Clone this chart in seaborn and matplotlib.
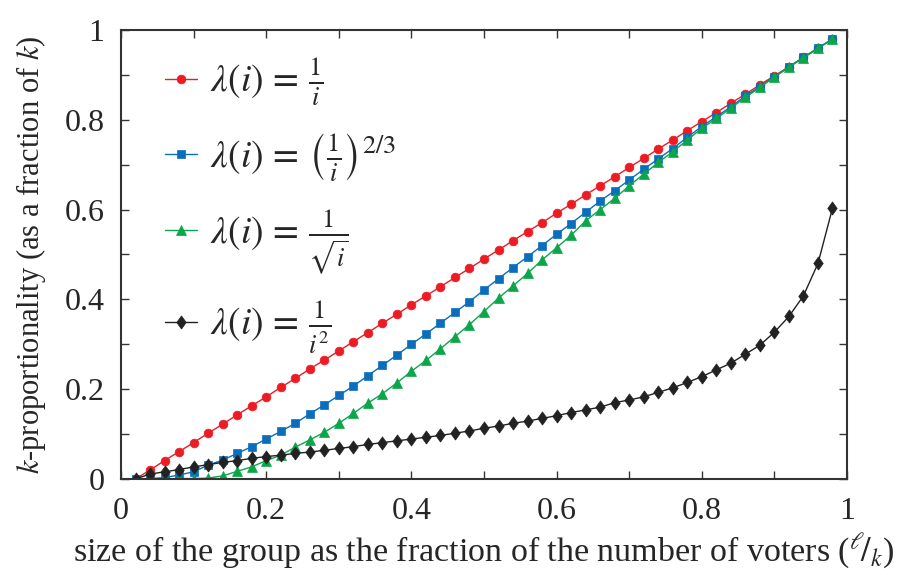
import numpy as np
import pandas as pd
import seaborn as sns
import matplotlib
matplotlib.use("Agg")
import matplotlib.pyplot as plt
from matplotlib.ticker import MultipleLocator

# ---- data ----
x_vals = [0.02, 0.04, 0.06, 0.08, 0.10, 0.12, 0.14, 0.16, 0.18, 0.20,
          0.22, 0.24, 0.26, 0.28, 0.30, 0.32, 0.34, 0.36, 0.38, 0.40,
          0.42, 0.44, 0.46, 0.48, 0.50, 0.52, 0.54, 0.56, 0.58, 0.60,
          0.62, 0.64, 0.66, 0.68, 0.70, 0.72, 0.74, 0.76, 0.78, 0.80,
          0.82, 0.84, 0.86, 0.88, 0.90, 0.92, 0.94, 0.96, 0.98]

y_inv = [0.000, 0.020, 0.041, 0.061, 0.081, 0.102, 0.122, 0.143, 0.163, 0.183,
         0.204, 0.224, 0.245, 0.265, 0.285, 0.306, 0.326, 0.347, 0.367, 0.388,
         0.408, 0.428, 0.449, 0.469, 0.490, 0.510, 0.531, 0.551, 0.571, 0.592,
         0.612, 0.633, 0.653, 0.673, 0.694, 0.714, 0.735, 0.755, 0.776, 0.796,
         0.816, 0.837, 0.857, 0.878, 0.898, 0.918, 0.939, 0.959, 0.980]

y_pow23 = [0.000, 0.001, 0.003, 0.009, 0.016, 0.031, 0.042, 0.057, 0.072, 0.089,
           0.106, 0.124, 0.145, 0.165, 0.186, 0.207, 0.230, 0.253, 0.276, 0.300,
           0.323, 0.347, 0.371, 0.395, 0.421, 0.446, 0.471, 0.495, 0.520, 0.545,
           0.569, 0.594, 0.619, 0.642, 0.666, 0.690, 0.713, 0.736, 0.761, 0.785,
           0.807, 0.829, 0.853, 0.874, 0.896, 0.918, 0.939, 0.960, 0.980]

y_sqrt = [0.000, 0.000, 0.000, 0.001, 0.001, 0.002, 0.007, 0.017, 0.027, 0.041,
          0.053, 0.071, 0.087, 0.104, 0.124, 0.146, 0.169, 0.190, 0.214, 0.240,
          0.264, 0.290, 0.317, 0.344, 0.373, 0.403, 0.430, 0.458, 0.488, 0.515,
          0.543, 0.575, 0.600, 0.625, 0.653, 0.679, 0.705, 0.729, 0.755, 0.781,
          0.803, 0.826, 0.850, 0.872, 0.895, 0.917, 0.938, 0.959, 0.980]

y_sq = [0.000, 0.011, 0.016, 0.021, 0.027, 0.032, 0.037, 0.041, 0.046, 0.050,
        0.053, 0.057, 0.060, 0.064, 0.068, 0.072, 0.077, 0.081, 0.085, 0.089,
        0.093, 0.097, 0.102, 0.107, 0.113, 0.118, 0.124, 0.129, 0.135, 0.141,
        0.148, 0.154, 0.160, 0.170, 0.176, 0.183, 0.193, 0.203, 0.215, 0.228,
        0.243, 0.258, 0.278, 0.298, 0.327, 0.362, 0.408, 0.480, 0.603]

labels = [r'$\lambda(i)\,=\,\frac{1}{i}$',
          r'$\lambda(i)\,=\,\left(\frac{1}{i}\right)^{2/3}$',
          r'$\lambda(i)\,=\,\frac{1}{\sqrt{i}}$',
          r'$\lambda(i)\,=\,\frac{1}{i^{2}}$']
x_ticks = [0, 0.2, 0.4, 0.6, 0.8, 1]
y_ticks = [0, 0.2, 0.4, 0.6, 0.8, 1]
tick_labels = ['0', '0.2', '0.4', '0.6', '0.8', '1']

series = [y_inv, y_pow23, y_sqrt, y_sq]
colors = ['#ec1c24', '#0a6ebd', '#0ca64a', '#222222']
diamond = [(0, -1), (0.72, 0), (0, 1), (-0.72, 0), (0, -1)]
markers = ['o', 's', '^', diamond]
msizes = [6.3, 5.2, 7.5, 9.5]

sns.set_theme(style='ticks')
plt.rcParams['font.family'] = ['Liberation Serif', 'DejaVu Serif']
plt.rcParams['mathtext.fontset'] = 'stix'

fig = plt.figure(figsize=(9.08, 5.75), dpi=100)
ax = fig.add_axes([121/908, 1 - 479/575, (847-121)/908, (479-30)/575])

for ys, lab, c, m, ms in zip(series, labels, colors, markers, msizes):
    df = pd.DataFrame({'x': x_vals, 'y': ys})
    sns.lineplot(data=df, x='x', y='y', ax=ax, color=c, marker=m,
                 markersize=ms, markeredgewidth=0.5, markeredgecolor=c,
                 linewidth=1.0, label=lab)

ax.set_xlim(0, 1)
ax.set_ylim(0, 1)
ax.set_xticks(x_ticks)
ax.set_xticklabels(tick_labels)
ax.set_yticks(y_ticks)
ax.set_yticklabels(tick_labels)
ax.xaxis.set_minor_locator(MultipleLocator(0.1))
ax.yaxis.set_minor_locator(MultipleLocator(0.1))
ax.tick_params(which='both', direction='in', top=True, right=True,
               length=6, width=1.0, color='#333333', labelsize=23)
ax.tick_params(axis='x', which='major', pad=13)
ax.tick_params(axis='y', which='major', pad=12)
for sp in ax.spines.values():
    sp.set_linewidth(1.5)
    sp.set_color('#333333')

ax.set_xlabel(r'size of the group as the fraction of the number of voters (${}^{\ell}\!/{}_{k}$)',
              fontsize=24.5, labelpad=4)
ax.set_ylabel(r'$k$-proportionality (as a fraction of $k$)', fontsize=22, labelpad=12)

leg = ax.legend(loc='upper left', bbox_to_anchor=(0.04, 0.975), frameon=False,
                fontsize=27, handlelength=0.85, handletextpad=0.35,
                labelspacing=0.62, numpoints=1, borderaxespad=0)

fig.savefig('out.png', dpi=100)
